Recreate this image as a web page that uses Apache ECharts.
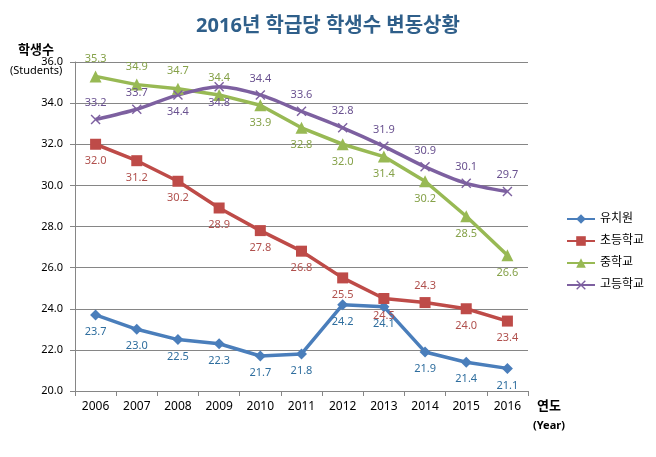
<!DOCTYPE html>
<html><head><meta charset="utf-8">
<script src="https://cdn.jsdelivr.net/npm/echarts@6/dist/echarts.min.js"></script>
<style>html,body{margin:0;padding:0;background:#fff}#c{width:656px;height:457px}</style>
</head><body><div id="c"></div>
<script>
const years = ['2006','2007','2008','2009','2010','2011','2012','2013','2014','2015','2016'];
const kinder = [23.7, 23.0, 22.5, 22.3, 21.7, 21.8, 24.2, 24.1, 21.9, 21.4, 21.1];
const elem   = [32.0, 31.2, 30.2, 28.9, 27.8, 26.8, 25.5, 24.5, 24.3, 24.0, 23.4];
const middle = [35.3, 34.9, 34.7, 34.4, 33.9, 32.8, 32.0, 31.4, 30.2, 28.5, 26.6];
const high   = [33.2, 33.7, 34.4, 34.8, 34.4, 33.6, 32.8, 31.9, 30.9, 30.1, 29.7];
const seriesNames = ['유치원','초등학교','중학교','고등학교'];

// label placement per point (top/bottom)
const posKinder = Array(11).fill('bottom');
const posElem = ['bottom','bottom','bottom','bottom','bottom','bottom','bottom','bottom','top','bottom','bottom'];
const posMiddle = ['top','top','top','top','bottom','bottom','bottom','bottom','bottom','bottom','bottom'];
const posHigh = ['top','top','bottom','bottom','top','top','top','top','top','top','top'];

function mk(vals, pos){ return vals.map((v,i)=>({value:v, label:{position:pos[i]}})); }

const font = '"Noto Sans", "Noto Sans CJK KR", sans-serif';
const xSym = 'path://M0,1L1,0L5,4L9,0L10,1L6,5L10,9L9,10L5,6L1,10L0,9L4,5Z';

function ser(name, vals, pos, color, lblColor, symbol, size, smooth){
  return {
    name, type:'line', data: mk(vals,pos), symbol, symbolSize:size, smooth: smooth||false,
    lineStyle:{color, width:3.5}, itemStyle:{color},
    label:{show:true, color:lblColor, fontSize:11, fontFamily:font, distance:6, formatter:p=>p.value.toFixed(1)}
  };
}

const chart = echarts.init(document.getElementById('c'));
chart.setOption({
  animation:false,
  backgroundColor:'#fff',
  title:{text:'2016년 학급당 학생수 변동상황', left:'center', top:11,
    textStyle:{color:'#2F5F8A', fontSize:20, fontWeight:'bold', fontFamily:font}},
  grid:{left:75, right:128, top:62, bottom:66},
  legend:{orient:'vertical', left:561, top:208, itemWidth:28, itemHeight:12, itemGap:10,
    textStyle:{fontSize:12, color:'#000', fontFamily:font}, data:seriesNames},
  xAxis:{type:'category', data:years, boundaryGap:true,
    axisLine:{lineStyle:{color:'#868686'}}, axisTick:{show:true, length:5, lineStyle:{color:'#868686'}},
    axisLabel:{color:'#000', fontSize:12, fontFamily:font, margin:10}},
  yAxis:{type:'value', min:20, max:36, interval:2,
    axisLine:{show:true, lineStyle:{color:'#868686'}}, axisTick:{show:true, length:5, lineStyle:{color:'#868686'}},
    axisLabel:{color:'#000', fontSize:11, fontFamily:font, margin:12, formatter:v=>v.toFixed(1)},
    splitLine:{lineStyle:{color:'#868686'}}},
  graphic:[
    {type:'text', left:18, top:44, style:{text:'학생수', fontSize:13, fontWeight:'bold', fill:'#000', fontFamily:font}},
    {type:'text', left:10, top:65, style:{text:'(Students)', fontSize:11, fill:'#000', fontFamily:font}},
    {type:'text', left:537, top:400, style:{text:'연도', fontSize:13, fontWeight:'bold', fill:'#000', fontFamily:font}},
    {type:'text', left:533, top:420, style:{text:'(Year)', fontSize:11, fontWeight:'bold', fill:'#000', fontFamily:font}}
  ],
  series:[
    ser('유치원', kinder, posKinder, '#4A7EBB', '#2F6E9E', 'diamond', 11),
    ser('초등학교', elem, posElem, '#BE4B48', '#B0504D', 'rect', 11),
    ser('중학교', middle, posMiddle, '#98B954', '#86A24A', 'triangle', 12),
    ser('고등학교', high, posHigh, '#7D60A0', '#6A5290', xSym, 10, 0.25)
  ]
});
</script></body></html>
